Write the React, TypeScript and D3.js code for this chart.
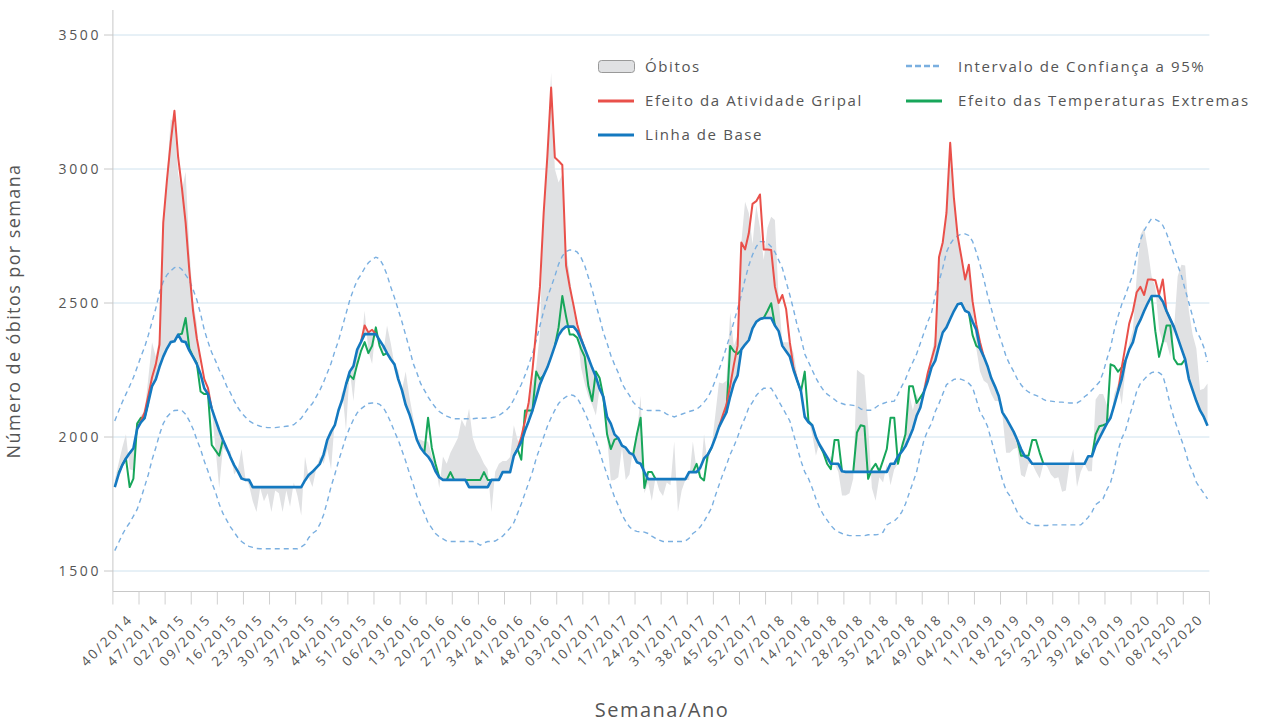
import React from "react";
import * as d3 from "d3";

// weekly values, index 0 = week 40/2014, last = week 21/2020
const baseline = [
  1813, 1860, 1895, 1920, 1940, 1958, 2030, 2055, 2070, 2130,
  2190, 2215, 2262, 2300, 2330, 2354, 2357, 2382, 2357, 2354,
  2322, 2298, 2272, 2235, 2182, 2160, 2106, 2065, 2025, 1990,
  1958, 1925, 1895, 1872, 1845, 1840, 1840, 1813, 1813, 1813,
  1813, 1813, 1813, 1813, 1813, 1813, 1813, 1813, 1813, 1813,
  1813, 1838, 1858, 1870, 1885, 1900, 1935, 1990, 2020, 2044,
  2100, 2140, 2196, 2244, 2265, 2326, 2354, 2384, 2384, 2384,
  2384, 2361, 2340, 2313, 2290, 2271, 2216, 2175, 2120, 2085,
  2040, 1990, 1960, 1941, 1927, 1906, 1872, 1850, 1840, 1840,
  1840, 1840, 1840, 1840, 1840, 1813, 1813, 1813, 1813, 1813,
  1813, 1840, 1840, 1840, 1869, 1869, 1869, 1930, 1955, 1982,
  2024, 2060, 2099, 2147, 2196, 2230, 2260, 2299, 2340, 2380,
  2400, 2412, 2412, 2412, 2395, 2365, 2330, 2295, 2258, 2225,
  2180, 2150, 2075, 2050, 2010, 1996, 1968, 1960, 1941, 1934,
  1906, 1900, 1870, 1843, 1843, 1843, 1843, 1843, 1843, 1843,
  1843, 1843, 1843, 1843, 1869, 1869, 1869, 1886, 1920, 1934,
  1960, 1996, 2037, 2065, 2092, 2150, 2200, 2230, 2326, 2345,
  2361, 2405, 2430, 2440, 2444, 2444, 2444, 2416, 2395, 2340,
  2320, 2300, 2250, 2210, 2170, 2075, 2055, 2044, 2000, 1970,
  1948, 1925, 1900, 1900, 1900, 1872, 1870, 1870, 1870, 1870,
  1870, 1870, 1870, 1870, 1870, 1870, 1870, 1870, 1900, 1900,
  1928, 1945, 1965, 1996, 2030, 2079, 2110, 2170, 2210, 2260,
  2285, 2340, 2390, 2409, 2440, 2470, 2495, 2499, 2471, 2464,
  2430, 2400, 2330, 2300, 2265, 2220, 2189, 2154, 2092, 2070,
  2045, 2020, 1989, 1955, 1928, 1920, 1900, 1900, 1900, 1900,
  1900, 1900, 1900, 1900, 1900, 1900, 1900, 1900, 1900, 1900,
  1900, 1928, 1928, 1969, 1996, 2023, 2050, 2072, 2120, 2170,
  2216, 2285, 2326, 2354, 2409, 2437, 2470, 2500, 2526, 2526,
  2526, 2506, 2470, 2440, 2410, 2370, 2330, 2290, 2216, 2175,
  2134, 2099, 2075, 2042,
];

const upperCI = [
  2060, 2095, 2130, 2160, 2190, 2222, 2260, 2300, 2335, 2380,
  2430, 2480, 2540, 2580, 2605, 2620, 2632, 2636, 2625, 2605,
  2585, 2550, 2512, 2460, 2400, 2355, 2315, 2285, 2250, 2225,
  2190, 2165, 2135, 2110, 2090, 2075, 2060, 2052, 2045, 2040,
  2037, 2035, 2035, 2035, 2037, 2038, 2040, 2042, 2046, 2058,
  2070, 2090, 2110, 2125, 2150, 2175, 2205, 2240, 2275, 2320,
  2360, 2410, 2460, 2510, 2550, 2585, 2605, 2630, 2650, 2662,
  2671, 2665, 2640, 2605, 2560, 2520, 2475, 2430, 2380, 2330,
  2275, 2240, 2200, 2175, 2150, 2128, 2110, 2095, 2086, 2078,
  2072, 2068, 2068, 2068, 2068, 2068, 2068, 2070, 2070, 2070,
  2072, 2072, 2075, 2080, 2090, 2100, 2115, 2140, 2170, 2196,
  2230, 2270, 2310, 2360, 2415, 2470, 2520, 2560, 2600, 2645,
  2675, 2692, 2698, 2698, 2690, 2670, 2640, 2595, 2550, 2495,
  2445, 2390, 2350, 2305, 2270, 2240, 2200, 2175, 2155, 2130,
  2115, 2105, 2100, 2099, 2099, 2099, 2099, 2095, 2085, 2080,
  2075, 2080, 2085, 2090, 2095, 2099, 2103, 2115, 2130, 2147,
  2175, 2210, 2250, 2290, 2335, 2380, 2430, 2478, 2530, 2588,
  2640, 2680, 2710, 2729, 2729, 2725, 2710, 2690, 2660, 2630,
  2580, 2530, 2475, 2415, 2370, 2310, 2280, 2250, 2220, 2195,
  2175, 2160, 2150, 2140, 2128, 2125, 2120, 2120, 2118, 2115,
  2105, 2100, 2100, 2100, 2110, 2120, 2125, 2130, 2132, 2134,
  2160, 2189, 2215, 2250, 2280, 2310, 2350, 2390, 2430, 2464,
  2530, 2580, 2630, 2690, 2720, 2740, 2750, 2758, 2758, 2752,
  2730, 2690, 2643, 2590, 2530, 2480, 2430, 2385, 2345, 2300,
  2270, 2245, 2216, 2195, 2178, 2168, 2160, 2155, 2150, 2140,
  2134, 2134, 2132, 2130, 2130, 2128, 2127, 2127, 2127, 2135,
  2150, 2160, 2175, 2190, 2205, 2240, 2290, 2335, 2400, 2450,
  2495, 2530, 2570, 2605, 2680, 2735, 2770, 2795, 2815, 2812,
  2805, 2790, 2760, 2720, 2680, 2640, 2602, 2550, 2500, 2450,
  2395, 2370, 2335, 2280,
];

const lowerCI = [
  1576, 1605, 1635, 1660, 1680, 1705, 1730, 1770, 1815, 1860,
  1915, 1960, 2010, 2050, 2075, 2090, 2099, 2100, 2099, 2085,
  2060, 2030, 1990, 1955, 1910, 1872, 1830, 1795, 1750, 1715,
  1690, 1665, 1645, 1625, 1610, 1600, 1592, 1588, 1584, 1583,
  1583, 1583, 1583, 1583, 1583, 1583, 1583, 1583, 1583, 1583,
  1590, 1600, 1624, 1640, 1650, 1675, 1710, 1760, 1815, 1860,
  1910, 1955, 2000, 2035, 2065, 2090, 2105, 2115, 2125, 2127,
  2127, 2122, 2110, 2085, 2055, 2020, 1989, 1950, 1910, 1865,
  1825, 1780, 1745, 1715, 1680, 1660, 1640, 1628, 1620, 1612,
  1610, 1610, 1610, 1610, 1610, 1610, 1610, 1605, 1596, 1605,
  1610, 1610, 1612, 1620, 1630, 1645, 1660, 1680, 1715, 1750,
  1790, 1830, 1870, 1920, 1960, 2000, 2040, 2072, 2100, 2125,
  2140, 2150, 2158, 2155, 2145, 2120, 2092, 2060, 2020, 1985,
  1945, 1900, 1860, 1815, 1776, 1745, 1710, 1685, 1665, 1652,
  1648, 1646, 1645, 1640, 1630, 1622, 1615, 1610, 1610, 1610,
  1610, 1610, 1610, 1612, 1622, 1640, 1650, 1665, 1685, 1710,
  1735, 1780, 1820, 1860, 1895, 1935, 1965, 2000, 2040, 2072,
  2110, 2130, 2155, 2170, 2182, 2182, 2182, 2160, 2134, 2110,
  2085, 2060, 2010, 1960, 1910, 1870, 1845, 1810, 1770, 1735,
  1710, 1690, 1670, 1655, 1646, 1640, 1635, 1632, 1632, 1632,
  1632, 1632, 1635, 1635, 1635, 1637, 1645, 1672, 1680, 1686,
  1700, 1720, 1750, 1790, 1830, 1870, 1935, 1990, 2025, 2051,
  2095, 2125, 2160, 2195, 2205, 2215, 2218, 2215, 2210, 2200,
  2185, 2140, 2092, 2070, 2040, 1990, 1940, 1890, 1840, 1800,
  1780, 1750, 1720, 1700, 1688, 1678, 1672, 1670, 1670, 1670,
  1670, 1672, 1672, 1672, 1672, 1672, 1672, 1672, 1672, 1672,
  1685, 1700, 1720, 1748, 1758, 1770, 1803, 1830, 1880, 1950,
  1995, 2024, 2075, 2120, 2170, 2200, 2215, 2230, 2240, 2244,
  2240, 2230, 2180, 2120, 2070, 2030, 1990, 1950, 1900, 1870,
  1831, 1810, 1790, 1769,
];

const obitos = [
  1840, 1900, 1960, 2010, 1880, 1875, 2040, 2080, 2095, 2220,
  2354, 2300, 2370, 2822, 2974, 3187, 3170, 2980, 2920, 2990,
  2700, 2506, 2423, 2230, 2175, 2165, 2100, 1960, 1810, 1960,
  1945, 1950, 1860, 1880, 1955, 1850, 1820, 1760, 1720, 1810,
  1760, 1790, 1720, 1800, 1790, 1720, 1800, 1740, 1830, 1780,
  1707, 1927, 1850, 1813, 1880, 1927, 1900, 1955, 1879, 2065,
  2090, 2175, 2024, 2250, 2134, 2290, 2340, 2471, 2320, 2272,
  2410, 2360, 2313, 2416, 2350, 2270, 2250, 2175, 2244, 2150,
  2075, 1996, 1990, 1983, 1983, 1930, 1900, 1810, 1927, 1900,
  1941, 1968, 1996, 2065, 2037, 2106, 1996, 1955, 1930, 1900,
  1880, 1720, 1870, 1900, 1910, 1910, 1925, 2044, 1990, 1975,
  2000, 2120, 2200, 2260, 2388, 2860, 3060, 3360, 3000, 2950,
  2980, 2700, 2600, 2480, 2400, 2260, 2200, 2150, 2120, 2080,
  2180, 2120, 2000, 1838, 1840, 1850, 1960, 1840, 1860, 1960,
  2010, 2154, 1790, 1830, 1762, 1850, 1800, 1780, 1830, 1820,
  1983, 1720, 1800, 1840, 1840, 1983, 1880, 1850, 2010, 1900,
  1960, 2080, 2203, 2200, 2210, 2464, 2340, 2380, 2726, 2878,
  2836, 2720, 2864, 2781, 2660, 2781, 2822, 2810, 2519, 2354,
  2354, 2354, 2313, 2230, 2150, 2092, 2065, 2010, 1930, 1983,
  1960, 1900, 1930, 1900, 1870, 1782, 1782, 1790, 1844, 2251,
  2240, 2230, 2044, 1810, 1762, 1850, 1830, 1900, 1820, 1880,
  1900, 1980, 2000, 2160, 2100, 2160, 2120, 2200, 2250, 2310,
  2380, 2671, 2726, 2836, 3098, 2891, 2750, 2671, 2588, 2643,
  2506, 2330, 2244, 2210, 2200, 2160, 2134, 2134, 2080, 1941,
  1941, 1955, 1960, 1858, 1850, 1900, 1900, 1870, 1845, 1900,
  1890, 1860, 1845, 1850, 1796, 1800, 1900, 1955, 1813, 1870,
  1900, 1872, 1872, 2140, 2160, 2160, 2120, 2060, 2160, 2200,
  2120, 2250, 2350, 2400, 2600, 2754, 2781, 2700, 2600, 2561,
  2400, 2354, 2354, 2300, 2400, 2600, 2643, 2640, 2470, 2382,
  2330, 2175, 2180, 2200,
];

// Efeito da Atividade Gripal: one run of weeks per season, with the week index it starts at
const fluStarts = [6, 66, 108, 162, 217, 269];
const flu1415 = [2030, 2058, 2092, 2155, 2223, 2271, 2345, 2800, 2960, 3100, 3217, 3043, 2930, 2800, 2620, 2470, 2368, 2292, 2216, 2182, 2106];
const flu1516 = [2354, 2416, 2390, 2400, 2384];
const flu1617 = [1955, 2000, 2060, 2130, 2250, 2400, 2560, 2836, 3050, 3304, 3043, 3030, 3015, 2640, 2560, 2492, 2420, 2370, 2330];
const flu1718 = [2037, 2080, 2120, 2190, 2270, 2340, 2726, 2700, 2760, 2870, 2880, 2905, 2700, 2700, 2698, 2561, 2500, 2530, 2478, 2354, 2258, 2210];
const flu1819 = [2170, 2240, 2290, 2340, 2671, 2726, 2836, 3098, 2891, 2750, 2671, 2588, 2643, 2506, 2420, 2354, 2300];
const flu1920 = [2170, 2260, 2340, 2423, 2470, 2540, 2560, 2530, 2588, 2588, 2585, 2530, 2588, 2470, 2440, 2410];

// Efeito das Temperaturas Extremas
const tempStarts = [1, 17, 62, 83, 89, 94, 107, 118, 139, 155, 164, 173, 183, 189, 198, 229, 242, 262, 278];
const tempRuns = [
  [1865, 1895, 1920, 1813, 1845, 2050, 2072, 2072, 2130],
  [2382, 2385, 2444, 2330, 2300, 2275, 2170, 2160, 2160, 1970, 1950, 1930, 1990],
  [2196, 2230, 2216, 2271, 2320, 2354, 2313, 2340, 2409, 2340, 2306, 2313],
  [1941, 2072, 1960, 1900, 1850],
  [1840, 1869, 1840],
  [1840, 1840, 1840, 1840, 1840, 1869, 1840, 1840],
  [1930, 1955, 1915, 2099, 2099, 2099, 2244, 2215, 2230],
  [2340, 2409, 2526, 2450, 2382, 2382, 2370, 2330, 2300, 2189, 2134, 2244, 2220, 2150, 2010, 1955, 1990, 1996],
  [1934, 2010, 2072, 1810, 1869, 1869, 1843],
  [1869, 1900, 1850, 1838, 1934, 1960],
  [2092, 2340, 2320, 2310, 2326],
  [2440, 2444, 2470, 2499, 2416],
  [2210, 2170, 2244, 2060, 2044],
  [1970, 1941, 1900, 1880, 1989, 1989, 1872],
  [1870, 2017, 2044, 2040, 1844, 1880, 1900, 1872, 1913, 1955, 2072, 2072, 1900, 1960, 2010, 2189, 2189, 2127, 2148, 2170],
  [2464, 2380, 2340, 2330],
  [1989, 1930, 1930, 1930, 1989, 1989, 1941, 1900],
  [1928, 2010, 2040, 2044, 2050, 2271, 2265, 2244, 2260, 2285],
  [2526, 2395, 2299, 2354, 2416, 2416, 2292, 2271, 2271, 2290],
];

const tickLabels = [
  "40/2014", "47/2014", "02/2015", "09/2015", "16/2015", "23/2015", "30/2015",
  "37/2015", "44/2015", "51/2015", "06/2016", "13/2016", "20/2016", "27/2016",
  "34/2016", "41/2016", "48/2016", "03/2017", "10/2017", "17/2017", "24/2017",
  "31/2017", "38/2017", "45/2017", "52/2017", "07/2018", "14/2018", "21/2018",
  "28/2018", "35/2018", "42/2018", "49/2018", "04/2019", "11/2019", "18/2019",
  "25/2019", "32/2019", "39/2019", "46/2019", "01/2020", "08/2020", "15/2020",
];
const yTicks = [1500, 2000, 2500, 3000, 3500];

const FONT = "'Open Sans', 'Noto Sans', sans-serif";
const TEXT = "#555";
const RED = "#e9504a";
const GREEN = "#17a65a";
const BLUE = "#1479c0";
const DASH = "#7aafe0";
const GRAY = "#e0e1e3";

type Pt = { i: number; v: number };

const left = 112.9;
const right = 1209.4;
const axisY = 591.5;

const App = () => {
  const n = baseline.length;
  const x = d3.scaleLinear().domain([-0.5, n - 0.5]).range([left, right]);
  const y = d3.scaleLinear().domain([1500, 3500]).range([571, 35]);

  const seriesLine = d3
    .line<number>()
    .x((_, i) => x(i))
    .y((d) => y(d));
  const runLine = d3
    .line<Pt>()
    .x((d) => x(d.i))
    .y((d) => y(d.v));
  const obitosArea = d3
    .area<number>()
    .x((_, i) => x(i))
    .y0((_, i) => y(baseline[i]))
    .y1((d) => y(d));

  const toRun = (vals: number[], start: number): Pt[] =>
    vals.map((v, j) => ({ i: start + j, v }));
  const fluRuns = [flu1415, flu1516, flu1617, flu1718, flu1819, flu1920].map((r, k) =>
    toRun(r, fluStarts[k])
  );
  const tempLines = tempRuns.map((r, k) => toRun(r, tempStarts[k]));

  const step = x(0.5) - x(-0.5);
  const tickXs = d3.range(0, n / 7 + 1).map((k) => x(k * 7 - 0.5));

  return (
    <svg
      width={1265}
      height={722}
      style={{ position: "absolute", left: 0, top: 0, background: "#fff" }}
      fontFamily={FONT}
    >
      {/* grid */}
      {yTicks.map((t) => (
        <g key={t}>
          <line x1={left} x2={right} y1={y(t)} y2={y(t)} stroke="#cfe2ee" strokeWidth={1} />
          <line x1={104} x2={left} y1={y(t)} y2={y(t)} stroke="#c8c8c8" strokeWidth={1} />
          <text
            x={101}
            y={y(t) + 5}
            textAnchor="end"
            fontSize={14}
            letterSpacing={2.6}
            fill={TEXT}
          >
            {t}
          </text>
        </g>
      ))}

      {/* series */}
      <path d={obitosArea(obitos) || ""} fill={GRAY} stroke="none" />
      <path d={seriesLine(upperCI) || ""} fill="none" stroke={DASH} strokeWidth={1.4} strokeDasharray="5,4" />
      <path d={seriesLine(lowerCI) || ""} fill="none" stroke={DASH} strokeWidth={1.4} strokeDasharray="5,4" />
      {tempLines.map((r, k) => (
        <path key={"t" + k} d={runLine(r) || ""} fill="none" stroke={GREEN} strokeWidth={2} strokeLinejoin="round" />
      ))}
      {fluRuns.map((r, k) => (
        <path key={"f" + k} d={runLine(r) || ""} fill="none" stroke={RED} strokeWidth={2} strokeLinejoin="round" />
      ))}
      <path d={seriesLine(baseline) || ""} fill="none" stroke={BLUE} strokeWidth={2.6} strokeLinejoin="round" />

      {/* axes */}
      <line x1={left} x2={left} y1={10} y2={axisY} stroke="#c8c8c8" strokeWidth={1} />
      <line x1={left} x2={right} y1={axisY} y2={axisY} stroke="#c8c8c8" strokeWidth={1} />
      {tickXs.map((tx, k) => (
        <line key={"tk" + k} x1={tx} x2={tx} y1={axisY} y2={axisY + 13} stroke="#d0d0d0" strokeWidth={1} />
      ))}
      {tickLabels.map((lab, k) => {
        const ax = tickXs[k] + step / 2 + 19;
        const ay = 620;
        return (
          <text
            key={lab}
            x={ax}
            y={ay}
            transform={`rotate(-45 ${ax} ${ay})`}
            textAnchor="end"
            fontSize={13.5}
            letterSpacing={2.2}
            fill={TEXT}
          >
            {lab}
          </text>
        );
      })}

      <text
        x={20}
        y={311}
        transform="rotate(-90 20 311)"
        textAnchor="middle"
        fontSize={18}
        letterSpacing={1.4}
        fill={TEXT}
      >
        Número de óbitos por semana
      </text>
      <text x={662} y={717} textAnchor="middle" fontSize={20} letterSpacing={1.5} fill={TEXT}>
        Semana/Ano
      </text>

      {/* legend */}
      <g fontSize={15} letterSpacing={1.6} fill={TEXT}>
        <rect x={598.5} y={60.5} width={36} height={12} rx={3} fill={GRAY} stroke="#999" strokeWidth={1} />
        <text x={645} y={72}>Óbitos</text>
        <line x1={598} x2={634} y1={101} y2={101} stroke={RED} strokeWidth={3} />
        <text x={645} y={106}>Efeito da Atividade Gripal</text>
        <line x1={598} x2={634} y1={135} y2={135} stroke={BLUE} strokeWidth={3} />
        <text x={645} y={140}>Linha de Base</text>
        <line x1={906} x2={942} y1={66} y2={66} stroke={DASH} strokeWidth={2.5} strokeDasharray="6,3" />
        <text x={958} y={72}>Intervalo de Confiança a 95%</text>
        <line x1={906} x2={942} y1={101} y2={101} stroke={GREEN} strokeWidth={3} />
        <text x={958} y={106}>Efeito das Temperaturas Extremas</text>
      </g>
    </svg>
  );
};

export default App;
